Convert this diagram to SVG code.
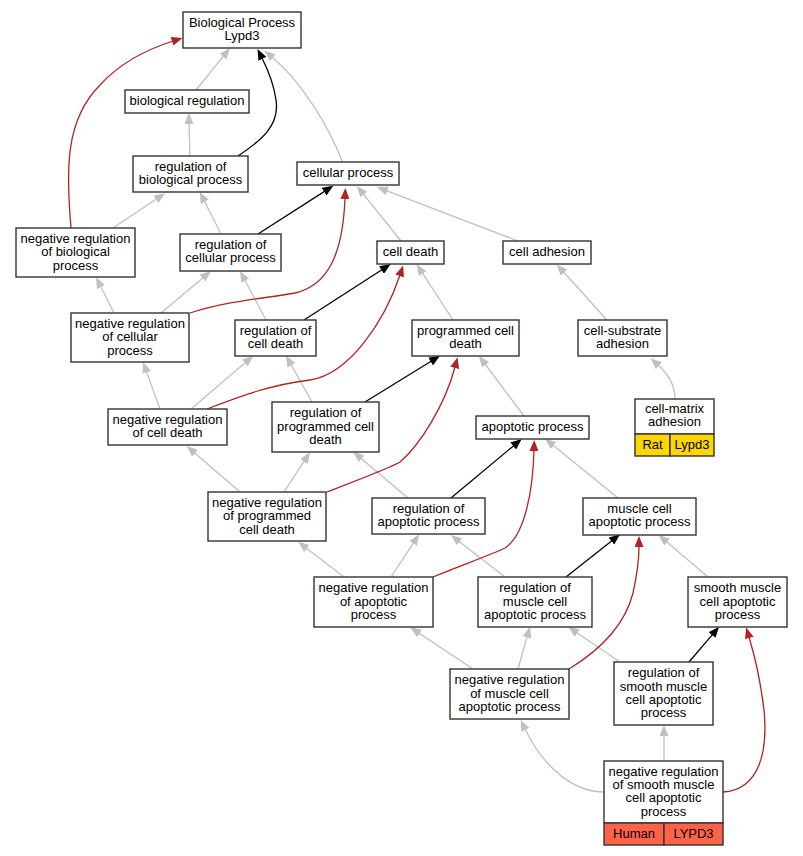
<svg xmlns="http://www.w3.org/2000/svg" width="803" height="856" viewBox="0 0 803 856">
<style>
.nd rect{fill:#ffffff;stroke:#333333;stroke-width:1.4}
.nd rect.rat{fill:#ffd700}
.nd rect.hum{fill:#ff6347}
text{font-family:"Liberation Sans",Arial,sans-serif;font-size:13px;text-anchor:middle;fill:#000}
.e path{fill:none;stroke-width:1.3}
.e .g{stroke:#c0c0c0;marker-end:url(#ag)}
.e .b{stroke:#000000;marker-end:url(#ab)}
.e .r{stroke:#b22222;marker-end:url(#ar)}
</style>
<defs>
<marker id="ag" markerUnits="userSpaceOnUse" markerWidth="11" markerHeight="9" viewBox="0 0 11 9" refX="1" refY="4.5" orient="auto"><path d="M0,0 L11,4.5 L0,9 z" fill="#c0c0c0"/></marker>
<marker id="ab" markerUnits="userSpaceOnUse" markerWidth="11" markerHeight="9" viewBox="0 0 11 9" refX="1" refY="4.5" orient="auto"><path d="M0,0 L11,4.5 L0,9 z" fill="#000000"/></marker>
<marker id="ar" markerUnits="userSpaceOnUse" markerWidth="11" markerHeight="9" viewBox="0 0 11 9" refX="1" refY="4.5" orient="auto"><path d="M0,0 L11,4.5 L0,9 z" fill="#b22222"/></marker>
</defs>
<rect x="0" y="0" width="803" height="856" fill="#ffffff"/>
<g id="edges" class="e">
<path class="g" d="M196,90 L223.7,55.8"/>
<path class="g" d="M190,156 L189,123"/>
<path class="g" d="M343,163 C330,130 305,85 272,57"/>
<path class="g" d="M113,228 L156.8,198.8"/>
<path class="g" d="M221,234 L204.3,201"/>
<path class="g" d="M401,241 L363.2,193.8"/>
<path class="g" d="M518,241 L386.3,190.6"/>
<path class="g" d="M114,313 L100.5,286"/>
<path class="g" d="M161,313 L203.3,277.4"/>
<path class="g" d="M266,320 L244.7,279.8"/>
<path class="g" d="M453,320 L422.1,272.7"/>
<path class="g" d="M607,320 L563.4,271.8"/>
<path class="g" d="M675,399 C675,385 667,373 658,365"/>
<path class="g" d="M160,409 L146.4,371.4"/>
<path class="g" d="M191,409 L245.7,362.2"/>
<path class="g" d="M312,402 L290.9,364.4"/>
<path class="g" d="M524,416 L485,364"/>
<path class="g" d="M240,492 L194.2,452.6"/>
<path class="g" d="M284,492 L304.5,460.7"/>
<path class="g" d="M408,498 L360.9,458.2"/>
<path class="g" d="M618,498 L552.8,445"/>
<path class="g" d="M344,577 L306.1,547.9"/>
<path class="g" d="M391,577 L413.7,542.6"/>
<path class="g" d="M505,577 L458.8,541.2"/>
<path class="g" d="M708,577 L666.3,541.4"/>
<path class="g" d="M473,669 L418.6,632.9"/>
<path class="g" d="M518,669 L527.2,636.3"/>
<path class="g" d="M620,662 L576.5,632.5"/>
<path class="g" d="M604,792 C575,792 545,770 525,729"/>
<path class="g" d="M664,761 L664,735"/>
<path class="b" d="M238,156 C262,140 280,125 276,100 C274,85 268,70 262,58"/>
<path class="b" d="M258,234 L324.9,191.1"/>
<path class="b" d="M304,320 L382.3,269.5"/>
<path class="b" d="M365,402 L431.5,361"/>
<path class="b" d="M451,498 L514,445.4"/>
<path class="b" d="M566,577 L612.2,540.5"/>
<path class="b" d="M689,662 L712.6,634.3"/>
<path class="r" d="M71,228 C66,170 65,120 100,85 C120,63 145,50 173,41"/>
<path class="r" d="M190,313 C230,300 270,298 295,293 C330,285 343,250 345,198"/>
<path class="r" d="M207,409 C240,396 270,385 310,380 C350,374 385,320 400,275"/>
<path class="r" d="M327,492 C350,483 390,468 400,462 C420,445 445,405 455,367"/>
<path class="r" d="M433,577 C460,566 495,553 505,548 C525,535 533,490 534,450"/>
<path class="r" d="M569,669 C600,650 625,625 633,593 C637,575 639,560 639,546"/>
<path class="r" d="M723,792 C760,790 768,750 764,710 C761,685 756,660 749,637"/>
</g>
<g id="n1" class="nd"><rect x="183" y="12" width="118" height="36"/><text x="242" y="26.6">Biological Process</text><text x="242" y="39.9">Lypd3</text></g>
<g id="n2" class="nd"><rect x="125" y="90" width="124" height="23"/><text x="187" y="105.2">biological regulation</text></g>
<g id="n3" class="nd"><rect x="133" y="156" width="115" height="36"/><text x="190.5" y="170.6">regulation of</text><text x="190.5" y="183.9">biological process</text></g>
<g id="n4" class="nd"><rect x="297" y="162" width="102" height="23"/><text x="348" y="177.2">cellular process</text></g>
<g id="n5" class="nd"><rect x="16" y="228" width="119" height="49"/><text x="75.5" y="242.9">negative regulation</text><text x="75.5" y="256.2">of biological</text><text x="75.5" y="269.5">process</text></g>
<g id="n6" class="nd"><rect x="180" y="234" width="101" height="37"/><text x="230.5" y="249.1">regulation of</text><text x="230.5" y="262.4">cellular process</text></g>
<g id="n7" class="nd"><rect x="377" y="241" width="67" height="23"/><text x="410.5" y="256.2">cell death</text></g>
<g id="n8" class="nd"><rect x="503" y="241" width="88" height="23"/><text x="547" y="256.2">cell adhesion</text></g>
<g id="n9" class="nd"><rect x="412" y="320" width="107" height="36"/><text x="465.5" y="334.6">programmed cell</text><text x="465.5" y="347.9">death</text></g>
<g id="n10" class="nd"><rect x="578" y="320" width="89" height="36"/><text x="622.5" y="334.6">cell-substrate</text><text x="622.5" y="347.9">adhesion</text></g>
<g id="n11" class="nd"><rect x="71" y="313" width="118" height="49"/><text x="130" y="327.9">negative regulation</text><text x="130" y="341.2">of cellular</text><text x="130" y="354.5">process</text></g>
<g id="n12" class="nd"><rect x="235" y="320" width="81" height="36"/><text x="275.5" y="334.6">regulation of</text><text x="275.5" y="347.9">cell death</text></g>
<g id="n13" class="nd"><rect x="108" y="409" width="119" height="36"/><text x="167.5" y="423.6">negative regulation</text><text x="167.5" y="436.9">of cell death</text></g>
<g id="n14" class="nd"><rect x="272" y="402" width="107" height="50"/><text x="325.5" y="417.4">regulation of</text><text x="325.5" y="430.7">programmed cell</text><text x="325.5" y="444">death</text></g>
<g id="n15" class="nd"><rect x="208" y="492" width="118" height="49"/><text x="267" y="506.9">negative regulation</text><text x="267" y="520.2">of programmed</text><text x="267" y="533.5">cell death</text></g>
<g id="n16" class="nd"><rect x="372" y="498" width="113" height="36"/><text x="428.5" y="512.6">regulation of</text><text x="428.5" y="525.9">apoptotic process</text></g>
<g id="n17" class="nd"><rect x="476" y="416" width="113" height="23"/><text x="532.5" y="431.2">apoptotic process</text></g>
<g id="n18" class="nd"><rect x="635" y="399" width="79" height="35"/><rect class="rat" x="635" y="434" width="35" height="22"/><rect class="rat" x="670" y="434" width="44" height="22"/><text x="674.5" y="413.1">cell-matrix</text><text x="674.5" y="426.4">adhesion</text><text x="652.5" y="448.7">Rat</text><text x="692" y="448.7">Lypd3</text></g>
<g id="n19" class="nd"><rect x="583" y="498" width="113" height="37"/><text x="639.5" y="513.1">muscle cell</text><text x="639.5" y="526.4">apoptotic process</text></g>
<g id="n20" class="nd"><rect x="478" y="577" width="114" height="50"/><text x="535" y="592.4">regulation of</text><text x="535" y="605.7">muscle cell</text><text x="535" y="619">apoptotic process</text></g>
<g id="n21" class="nd"><rect x="314" y="577" width="119" height="50"/><text x="373.5" y="592.4">negative regulation</text><text x="373.5" y="605.7">of apoptotic</text><text x="373.5" y="619">process</text></g>
<g id="n22" class="nd"><rect x="688" y="577" width="99" height="50"/><text x="737.5" y="592.4">smooth muscle</text><text x="737.5" y="605.7">cell apoptotic</text><text x="737.5" y="619">process</text></g>
<g id="n23" class="nd"><rect x="450" y="669" width="119" height="50"/><text x="509.5" y="684.4">negative regulation</text><text x="509.5" y="697.7">of muscle cell</text><text x="509.5" y="711">apoptotic process</text></g>
<g id="n24" class="nd"><rect x="614" y="662" width="99" height="63"/><text x="663.5" y="677.2">regulation of</text><text x="663.5" y="690.5">smooth muscle</text><text x="663.5" y="703.8">cell apoptotic</text><text x="663.5" y="717.1">process</text></g>
<g id="n25" class="nd"><rect x="604" y="761" width="119" height="62"/><rect class="hum" x="604" y="823" width="60" height="22"/><rect class="hum" x="664" y="823" width="59" height="22"/><text x="663.5" y="775.7">negative regulation</text><text x="663.5" y="789">of smooth muscle</text><text x="663.5" y="802.3">cell apoptotic</text><text x="663.5" y="815.6">process</text><text x="634" y="837.7">Human</text><text x="693.5" y="837.7">LYPD3</text></g>
</svg>
